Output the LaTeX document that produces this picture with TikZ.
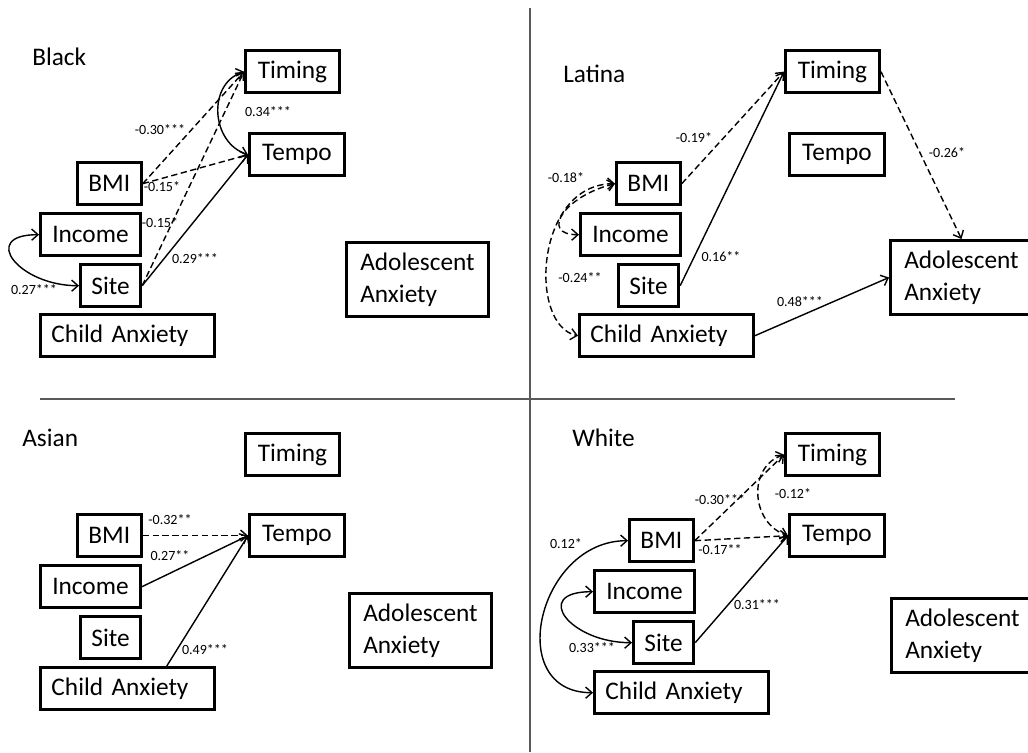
\documentclass[tikz,border=0pt]{standalone}
\usepackage{fontspec}
\setmainfont{Carlito}
\usepackage{tikz}
\usetikzlibrary{arrows.meta}
\definecolor{divgray}{RGB}{89,89,89}

\begin{document}
\begin{tikzpicture}[x=0.025cm,y=-0.025cm,>={Straight Barb[length=4.5pt,width=8pt]},
        box/.style={draw,line width=2.1pt,anchor=north west,inner xsep=0.275cm,inner ysep=0pt,minimum height=1.06cm,font=\fontsize{18}{22.8}\selectfont},
        timbox/.style={box,minimum width=2.35cm},
        tempbox/.style={box,minimum width=2.375cm},
        bmibox/.style={box,minimum width=1.575cm},
        incbox/.style={box,minimum width=2.5cm},
        sitebox/.style={box,minimum width=1.5cm},
        childbox/.style={box,text width=3.8cm,align=left},
        adolbox/.style={box,minimum width=3.55cm,minimum height=1.85cm,align=left},
        title/.style={anchor=base west,inner sep=0pt,font=\fontsize{18}{22}\selectfont},
        coef/.style={inner sep=0pt,font=\fontsize{10}{12}\selectfont},
        link/.style={line width=1pt},
        neglink/.style={link,dash pattern=on 4.5pt off 2.5pt}]
        \useasboundingbox (0,0) rectangle (1028,752);
        \draw[divgray,line width=1.4pt](530,8)--(530,752);
        \draw[divgray,line width=1.4pt](40,399)--(955,399);
        \begin{scope}
            \node[title] (tB) at (32,65) {Black};
            \node[timbox] (timB) at (244,49) {Timing};
            \node[tempbox] (tempB) at (248,132) {Tempo};
            \node[adolbox] (adolB) at (345,241) {Adolescent\\Anxiety};
            \node[bmibox] (bmiB) at (76,161) {BMI};
            \node[incbox] (incB) at (39,212) {Income};
            \node[sitebox] (siteB) at (79,263) {Site};
            \node[childbox] (caB) at (39,313) {Child Anxiety};
            \draw[neglink,->](bmiB.east)--(timB.west);
            \draw[neglink,->](bmiB.east)--(tempB.west);
            \draw[neglink,->](siteB.east)--(timB.west);
            \draw[link,->](siteB.east)--(tempB.west);
            \draw[link,<->](timB.west) .. controls +(-37,12) and +(-37,-12) .. (tempB.west);
            \draw[link,<->](incB.west) .. controls +(-60,0) and +(-60,0) .. (siteB.west);
            \node[coef] (cB1) at (160,130) {-0.30***};
            \node[coef] (cB2) at (162,187) {-0.15*};
            \node[coef] (cB3) at (160,223) {-0.15*};
            \node[coef] (cB4) at (195,259) {0.29***};
            \node[coef] (cB5) at (268,112) {0.34***};
            \node[coef] (cB6) at (34,290) {0.27***};
        \end{scope}
        \begin{scope}
            \node[title] (tL) at (563,82) {Latina};
            \node[timbox] (timL) at (784,49) {Timing};
            \node[tempbox] (tempL) at (788,132) {Tempo};
            \node[adolbox] (adolL) at (889,239) {Adolescent\\Anxiety};
            \node[bmibox] (bmiL) at (615,161) {BMI};
            \node[incbox] (incL) at (579,212) {Income};
            \node[sitebox] (siteL) at (617,263) {Site};
            \node[childbox] (caL) at (578,313) {Child Anxiety};
            \draw[neglink,->](bmiL.east)--(timL.west);
            \draw[link,->](siteL.east)--(timL.west);
            \draw[neglink,->](timL.east)--(adolL.north);
            \draw[link,->](caL.east)--(adolL.west);
            \draw[neglink,<->](bmiL.west) .. controls +(-50,12) and +(-40,0) .. (incL.west);
            \draw[neglink,<->](bmiL.west) .. controls +(-80,0) and +(-50,-10) .. (caL.west);
            \node[coef] (cL1) at (694,138) {-0.19*};
            \node[coef] (cL2) at (721,257) {0.16**};
            \node[coef] (cL3) at (947,153) {-0.26*};
            \node[coef] (cL4) at (800,302) {0.48***};
            \node[coef] (cL5) at (566,178) {-0.18*};
            \node[coef] (cL6) at (580,278) {-0.24**};
        \end{scope}
        \begin{scope}
            \node[title] (tA) at (22,446) {Asian};
            \node[timbox] (timA) at (244,432) {Timing};
            \node[tempbox] (tempA) at (248,513) {Tempo};
            \node[adolbox] (adolA) at (348,592) {Adolescent\\Anxiety};
            \node[bmibox] (bmiA) at (76,513) {BMI};
            \node[incbox] (incA) at (39,564) {Income};
            \node[sitebox] (siteA) at (79,615) {Site};
            \node[childbox] (caA) at (39,666) {Child Anxiety};
            \draw[neglink,->](bmiA.east)--(tempA.west);
            \draw[link,->](incA.east)--(tempA.west);
            \draw[link,->](caA.30)--(tempA.west);
            \node[coef] (cA1) at (170,520) {-0.32**};
            \node[coef] (cA2) at (170,556) {0.27**};
            \node[coef] (cA3) at (205,650) {0.49***};
        \end{scope}
        \begin{scope}
            \node[title] (tW) at (572,446) {White};
            \node[timbox] (timW) at (784,432) {Timing};
            \node[tempbox] (tempW) at (788,513) {Tempo};
            \node[adolbox] (adolW) at (890,597) {Adolescent\\Anxiety};
            \node[bmibox] (bmiW) at (628,518) {BMI};
            \node[incbox] (incW) at (593,569) {Income};
            \node[sitebox] (siteW) at (632,620) {Site};
            \node[childbox] (caW) at (593,670) {Child Anxiety};
            \draw[neglink,->](bmiW.east)--(timW.west);
            \draw[neglink,->](bmiW.east)--(tempW.west);
            \draw[link,->](siteW.east)--(tempW.west);
            \draw[neglink,<->](timW.west) .. controls +(-37,12) and +(-37,-12) .. (tempW.west);
            \draw[link,<->](bmiW.west) .. controls +(-90,0) and +(-90,0) .. (caW.west);
            \draw[link,<->](incW.west) .. controls +(-62,0) and +(-62,0) .. (siteW.west);
            \node[coef] (cW1) at (720,500) {-0.30***};
            \node[coef] (cW2) at (720,550) {-0.17**};
            \node[coef] (cW3) at (757,605) {0.31***};
            \node[coef] (cW4) at (793,494) {-0.12*};
            \node[coef] (cW5) at (566,544) {0.12*};
            \node[coef] (cW6) at (592,648) {0.33***};
        \end{scope}
    \end{tikzpicture}
\end{document}
